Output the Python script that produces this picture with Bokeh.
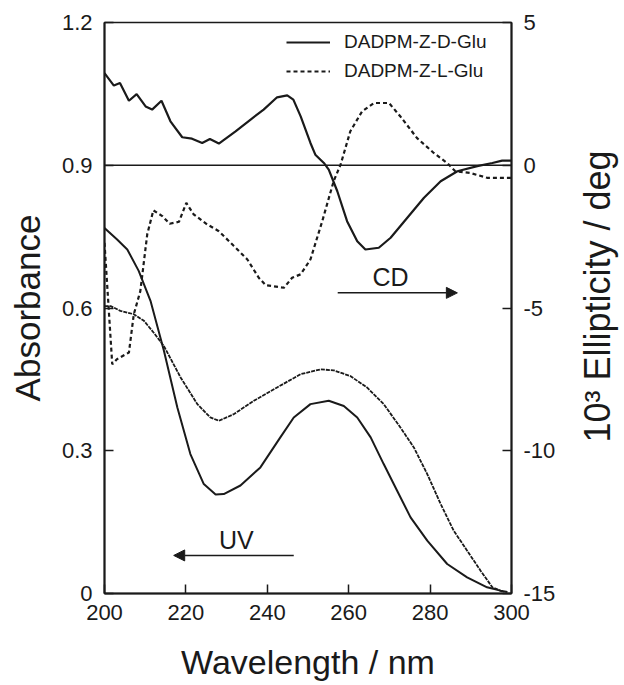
from math import pi
from bokeh.plotting import figure
from bokeh.layouts import row
from bokeh.models import (Range1d, LinearAxis, FixedTicker, Span, Label, Arrow,
                          NormalHead, Legend, LegendItem)
from bokeh.embed import file_html
from bokeh.resources import INLINE

# ---------------- data ----------------
# CD spectra (10^3 deg), right axis
cd_d_wl = [200.0, 202.3, 203.8, 206.0, 207.9, 210.1, 211.7, 214.0, 216.2, 219.1,
           221.5, 224.0, 225.9, 228.1, 232.2, 235.9, 239.1, 242.4, 244.9, 246.4,
           248.2, 250.6, 251.8, 253.9, 255.1, 257.2, 259.6, 262.1, 264.1, 267.4,
           270.3, 274.4, 278.5, 282.6, 286.7, 291.6, 295.3, 297.7, 300.0]
cd_d = [3.23, 2.79, 2.88, 2.26, 2.49, 2.06, 1.95, 2.26, 1.54, 0.98,
        0.93, 0.78, 0.92, 0.76, 1.19, 1.60, 1.95, 2.38, 2.45, 2.30,
        1.71, 0.78, 0.37, 0.08, -0.15, -0.91, -1.96, -2.66, -2.95, -2.89,
        -2.54, -1.84, -1.14, -0.56, -0.21, -0.03, 0.08, 0.16, 0.16]

cd_l_wl = [200.0, 201.9, 203.1, 206.0, 207.2, 208.8, 210.5, 212.0, 214.2, 216.0,
           218.3, 220.1, 221.9, 225.2, 228.1, 231.8, 235.1, 237.9, 239.6, 244.1,
           246.1, 248.2, 250.6, 253.5, 256.3, 258.0, 260.4, 263.3, 266.2, 269.9,
           272.7, 276.8, 280.9, 284.2, 286.2, 289.9, 294.0, 300.0]
cd_l = [-2.72, -6.97, -6.79, -6.56, -5.22, -4.41, -2.42, -1.58, -1.78, -2.05,
        -1.98, -1.32, -1.72, -2.07, -2.31, -2.83, -3.30, -3.94, -4.20, -4.29,
        -3.94, -3.82, -3.30, -1.96, -0.56, 0.02, 1.19, 1.89, 2.18, 2.18,
        1.71, 0.95, 0.43, 0.08, -0.21, -0.27, -0.44, -0.44]

# UV spectra (absorbance), left axis
uv_d_wl = [200.0, 203.1, 205.6, 208.4, 211.3, 214.6, 217.9, 221.1, 224.4, 227.3,
           229.3, 233.4, 238.3, 243.2, 246.5, 250.6, 255.1, 258.8, 262.1, 265.4,
           268.6, 271.9, 275.2, 279.3, 284.2, 289.1, 294.0, 297.3, 299.0]
uv_d = [0.768, 0.744, 0.723, 0.678, 0.615, 0.510, 0.391, 0.293, 0.230, 0.208,
        0.209, 0.227, 0.265, 0.328, 0.370, 0.398, 0.405, 0.394, 0.370, 0.328,
        0.272, 0.216, 0.160, 0.111, 0.062, 0.034, 0.013, 0.006, 0.003]

uv_l_wl = [200.0, 201.5, 203.9, 207.2, 209.7, 212.1, 214.6, 218.7, 222.8, 226.0,
           228.1, 231.8, 236.7, 242.4, 248.2, 253.1, 256.3, 260.4, 264.5, 268.6,
           272.7, 276.0, 279.3, 282.6, 285.8, 289.1, 292.4, 295.3, 298.1]
uv_l = [0.604, 0.604, 0.594, 0.587, 0.573, 0.548, 0.520, 0.454, 0.398, 0.370,
        0.363, 0.377, 0.405, 0.433, 0.461, 0.471, 0.469, 0.457, 0.433, 0.398,
        0.349, 0.307, 0.251, 0.188, 0.132, 0.090, 0.048, 0.013, 0.003]

x_ticks = [200, 220, 240, 260, 280, 300]
abs_ticks = [0, 0.3, 0.6, 0.9, 1.2]
cd_ticks = [-15, -10, -5, 0, 5]
cd_tick_labels = ["-15", "-10", "-5", "0", "5"]
series_names = ["DADPM-Z-D-Glu", "DADPM-Z-L-Glu"]

# ---------------- figure ----------------
FONT = "Liberation Sans"
INK = "#1a1a1a"
H = 683

p = figure(frame_width=407, frame_height=571,
           min_border_left=104, min_border_right=50,
           min_border_top=22, min_border_bottom=90,
           x_range=Range1d(200, 300), y_range=Range1d(0, 1.2),
           output_backend="svg", toolbar_location=None)
p.extra_y_ranges = {"cd": Range1d(-15, 5)}
p.xgrid.visible = False
p.ygrid.visible = False
p.outline_line_color = INK
p.outline_line_width = 1.5
p.background_fill_color = "white"
p.border_fill_color = "white"

def style_axis(ax):
    ax.axis_line_color = INK
    ax.axis_line_width = 2
    ax.major_tick_in = 9
    ax.major_tick_out = 0
    ax.major_tick_line_color = INK
    ax.major_tick_line_width = 1.5
    ax.minor_tick_line_color = None
    ax.major_label_text_font = FONT
    ax.major_label_text_font_size = "22px"
    ax.major_label_text_color = INK
    ax.axis_label_text_font = FONT
    ax.axis_label_text_font_style = "normal"
    ax.axis_label_text_color = INK

xa = p.xaxis[0]
style_axis(xa)
xa.ticker = FixedTicker(ticks=x_ticks)
xa.major_label_standoff = 11
xa.axis_label = "Wavelength / nm"
xa.axis_label_text_font_size = "34px"
xa.axis_label_standoff = 20

ya = p.yaxis[0]
style_axis(ya)
ya.ticker = FixedTicker(ticks=abs_ticks)
ya.major_label_overrides = {0: "0"}
ya.major_label_standoff = 12
ya.axis_label = "Absorbance"
ya.axis_label_text_font_size = "35px"
ya.axis_label_standoff = 12

ra = LinearAxis(y_range_name="cd", ticker=FixedTicker(ticks=cd_ticks))
style_axis(ra)
ra.major_label_overrides = dict(zip(cd_ticks, cd_tick_labels))
ra.major_label_standoff = 12
p.add_layout(ra, "right")

# zero line of the CD scale
p.add_layout(Span(location=0, dimension="width", y_range_name="cd",
                  line_color=INK, line_width=1.5))

# ---------------- curves ----------------
r_cd_d = p.line(cd_d_wl, cd_d, y_range_name="cd", line_color=INK, line_width=2.2)
r_cd_l = p.line(cd_l_wl, cd_l, y_range_name="cd", line_color=INK, line_width=2.2,
                line_dash="4 3")
p.line(uv_d_wl, uv_d, line_color=INK, line_width=2)
p.line(uv_l_wl, uv_l, line_color=INK, line_width=1.8, line_dash="4 1")

legend = Legend(items=[LegendItem(label=series_names[0], renderers=[r_cd_d]),
                       LegendItem(label=series_names[1], renderers=[r_cd_l])],
                location=(182, 511), padding=0, margin=0,
                border_line_color=None, background_fill_alpha=0,
                glyph_width=44, glyph_height=20, label_height=20,
                spacing=7, label_standoff=14,
                label_text_font=FONT, label_text_font_size="19px",
                label_text_color=INK)
p.add_layout(legend)

# ---------------- annotations ----------------
p.add_layout(Label(x=270.3, y=-3.92, y_range_name="cd", text="CD",
                   text_align="center", text_baseline="middle",
                   text_font=FONT, text_font_size="25px", text_color=INK))
p.add_layout(Arrow(x_start=257.3, y_start=-4.47, x_end=286.7, y_end=-4.47,
                   y_range_name="cd", line_color=INK, line_width=1.5,
                   end=NormalHead(size=11, fill_color=INK, line_color=INK)))

p.add_layout(Label(x=232.4, y=0.113, text="UV",
                   text_align="center", text_baseline="middle",
                   text_font=FONT, text_font_size="25px", text_color=INK))
p.add_layout(Arrow(x_start=246.5, y_start=0.080, x_end=217.0, y_end=0.080,
                   line_color=INK, line_width=1.5,
                   end=NormalHead(size=11, fill_color=INK, line_color=INK)))

# ---------------- right-axis title strip (reads bottom to top) ----------------
SW = 60
side = figure(frame_width=SW, frame_height=H, min_border=0,
              x_range=Range1d(0, SW), y_range=Range1d(0, H),
              x_axis_type=None, y_axis_type=None,
              output_backend="svg", toolbar_location=None)
side.xgrid.visible = False
side.ygrid.visible = False
side.outline_line_color = None
side.background_fill_color = "white"
side.border_fill_color = "white"
side.add_layout(Label(x=36, y=H - 296 + 22, angle=pi / 2,
                      text="10³ Ellipticity / deg",
                      text_align="center", text_baseline="middle",
                      text_font=FONT, text_font_size="36px", text_color=INK))

layout = row(p, side, spacing=0)
open("out.html", "w").write(file_html(layout, INLINE))
